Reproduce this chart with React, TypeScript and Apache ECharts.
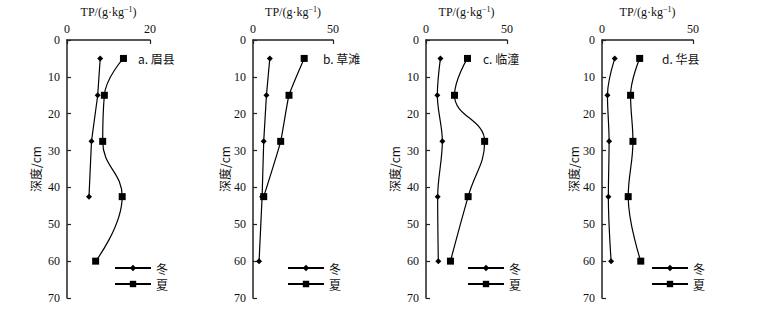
import React, { useEffect, useRef } from "react";
import * as echarts from "echarts";

const depths = [5, 15, 27.5, 42.5, 60];
const panelNames = ["a. 眉县", "b. 草滩", "c. 临潼", "d. 华县"];
const xMaxes = [20, 50, 50, 50];
const winterA = [8.0, 7.4, 5.9, 5.3, null];
const summerA = [13.6, 9.0, 8.6, 13.3, 6.9];
const winterB = [10.5, 8.4, 6.7, 5.7, 3.8];
const summerB = [32.0, 22.5, 17.3, 6.7, null];
const winterC = [8.9, 7.0, 10.1, 7.2, 7.6];
const summerC = [25.6, 17.6, 36.2, 26.0, 15.1];
const winterD = [7.0, 3.0, 3.9, 3.5, 5.0];
const summerD = [20.7, 15.7, 17.0, 14.4, 21.3];
const depthTicks = [0, 10, 20, 30, 40, 50, 60, 70];

const SERIF = "Liberation Serif";
const CJK = "Noto Sans CJK SC";

function pairs(vals: (number | null)[]) {
  const out: number[][] = [];
  vals.forEach((v, i) => {
    if (v !== null) out.push([v, depths[i]]);
  });
  return out;
}

export default function App() {
  const ref = useRef<HTMLDivElement>(null);
  useEffect(() => {
    if (!ref.current) return;
    const chart = echarts.init(ref.current, undefined, { renderer: "svg" });
    const grids = [
      { left: 67, top: 40, width: 83, height: 258 },
      { left: 253, top: 40, width: 80, height: 258 },
      { left: 426, top: 40, width: 81, height: 258 },
      { left: 602, top: 40, width: 91, height: 258 },
    ];
    const nameGaps = [26, 23, 26, 22];
    const winters = [winterA, winterB, winterC, winterD];
    const summers = [summerA, summerB, summerC, summerD];
    const winterSmooth = [false, false, 0.35, 0.35];
    const summerSmooth = [0.45, 0.15, 0.45, 0.4];
    const axisColor = "#222";
    const series: any[] = [];
    for (let i = 0; i < 4; i++) {
      series.push({
        name: "冬",
        type: "line",
        xAxisIndex: i,
        yAxisIndex: i,
        data: pairs(winters[i]),
        symbol: "diamond",
        symbolSize: 6,
        smooth: winterSmooth[i],
        lineStyle: { color: "#000", width: 1.2 },
        itemStyle: { color: "#000" },
      });
      series.push({
        name: "夏",
        type: "line",
        xAxisIndex: i,
        yAxisIndex: i,
        data: pairs(summers[i]),
        symbol: "rect",
        symbolSize: 7,
        smooth: summerSmooth[i],
        lineStyle: { color: "#000", width: 1.2 },
        itemStyle: { color: "#000" },
      });
    }
    const legendLefts = [114, 287, 467, 651];
    chart.setOption({
      animation: false,
      backgroundColor: "#fff",
      grid: grids,
      xAxis: grids.map((_, i) => ({
        type: "value",
        gridIndex: i,
        position: "top",
        min: 0,
        max: xMaxes[i],
        interval: xMaxes[i],
        name: "{a|TP/(g·kg}{s|−1}{a|)}",
        nameLocation: "middle",
        nameGap: 15,
        nameTextStyle: {
          fontFamily: SERIF,
          rich: {
            a: { fontFamily: SERIF, fontSize: 12, color: "#111" },
            s: { fontFamily: SERIF, fontSize: 8, color: "#111", verticalAlign: "top", padding: [0, 0, 5, 0] },
          },
        },
        axisLine: { show: true, lineStyle: { color: axisColor, width: 1.5 } },
        axisTick: { show: true, inside: true, length: 4, lineStyle: { color: axisColor, width: 1.2 } },
        axisLabel: { fontFamily: SERIF, fontSize: 12, color: "#111", margin: 5 },
        splitLine: { show: false },
      })),
      yAxis: grids.map((_, i) => ({
        type: "value",
        gridIndex: i,
        inverse: true,
        min: depthTicks[0],
        max: depthTicks[depthTicks.length - 1],
        interval: 10,
        name: "深度/cm",
        nameLocation: "middle",
        nameGap: nameGaps[i],
        nameRotate: 90,
        nameTextStyle: { fontFamily: CJK, fontSize: 12, color: "#111" },
        axisLine: { show: true, lineStyle: { color: axisColor, width: 1.5 } },
        axisTick: { show: true, inside: true, length: 4, lineStyle: { color: axisColor, width: 1.2 } },
        axisLabel: { fontFamily: SERIF, fontSize: 12, color: "#111", margin: 7 },
        splitLine: { show: false },
      })),
      legend: legendLefts.map((l) => ({
        data: ["冬", "夏"],
        orient: "vertical",
        left: l,
        top: 262,
        padding: 0,
        itemWidth: 36,
        itemHeight: 8,
        itemGap: 4,
        selectedMode: false,
        textStyle: { fontFamily: CJK, fontSize: 12, color: "#111" },
      })),
      graphic: grids.map((g, i) => ({
        type: "text",
        left: g.left + (i === 0 ? 71 : i === 1 ? 70 : i === 2 ? 57 : 60),
        top: 52,
        style: { text: panelNames[i], fontFamily: CJK, fontSize: 12, fill: "#111" },
      })),
      series,
    });
    return () => chart.dispose();
  }, []);
  return <div ref={ref} style={{ width: 765, height: 316, position: "absolute", left: 0, top: 0 }} />;
}
